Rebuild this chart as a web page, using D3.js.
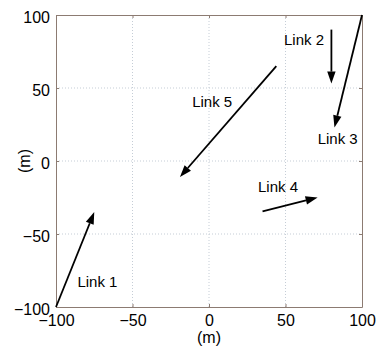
<!DOCTYPE html>
<html>
<head>
<meta charset="utf-8">
<script src="https://cdn.jsdelivr.net/npm/d3@7"></script>
<style>
  body { margin: 0; background: #fff; }
  text { font-family: "Liberation Sans", Arial, sans-serif; fill: #000; }
</style>
</head>
<body>
<script>
var W = 379, H = 346;

// link vectors, metres (start -> end)
var linkNames = ["Link 1", "Link 2", "Link 3", "Link 4", "Link 5"];
var startX = [-100, 80, 100, 35, 44];
var startY = [-100, 90, 100, -34.5, 65];
var endX = [-75, 80, 82, 71, -19];
var endY = [-35, 53, 23, -25, -11];
// where each label sits (left edge / baseline), metres
var labelX = [-86, 49, 71, 32, -11];
var labelY = [-86, 79.5, 11.5, -21.5, 37];

var tickVals = [-100, -50, 0, 50, 100];

var m = { left: 56, top: 15, right: 17, bottom: 39 };

var x = d3.scaleLinear().domain([-100, 100]).range([m.left, W - m.right]);
var y = d3.scaleLinear().domain([-100, 100]).range([H - m.bottom, m.top]);

var svg = d3.select("body").append("svg")
    .attr("width", W)
    .attr("height", H);

var g = svg.append("g");

// dotted grid
g.selectAll(".gx").data(tickVals.slice(1, 4)).enter().append("line")
    .attr("x1", function(d) { return x(d); })
    .attr("x2", function(d) { return x(d); })
    .attr("y1", y(-100)).attr("y2", y(100))
    .attr("stroke", "#c5cdd6").attr("stroke-width", 1)
    .attr("stroke-dasharray", "1,2");
g.selectAll(".gy").data(tickVals.slice(1, 4)).enter().append("line")
    .attr("y1", function(d) { return y(d); })
    .attr("y2", function(d) { return y(d); })
    .attr("x1", x(-100)).attr("x2", x(100))
    .attr("stroke", "#c5cdd6").attr("stroke-width", 1)
    .attr("stroke-dasharray", "1,2");

// axes (ticks inward, matlab style)
var fmt = function(d) { return String(d).replace("-", "\u2212"); };
var axB = g.append("g").attr("transform", "translate(0," + y(-100) + ")")
    .call(d3.axisBottom(x).tickValues(tickVals).tickSizeInner(-3).tickSizeOuter(0).tickPadding(8).tickFormat(fmt));
var axL = g.append("g").attr("transform", "translate(" + x(-100) + ",0)")
    .call(d3.axisLeft(y).tickValues(tickVals).tickSizeInner(-3).tickSizeOuter(0).tickPadding(6).tickFormat(fmt));
var axT = g.append("g").attr("transform", "translate(0," + y(100) + ")")
    .call(d3.axisTop(x).tickValues(tickVals).tickSizeInner(-3).tickSizeOuter(0).tickFormat(""));
var axR = g.append("g").attr("transform", "translate(" + x(100) + ",0)")
    .call(d3.axisRight(y).tickValues(tickVals).tickSizeInner(-3).tickSizeOuter(0).tickFormat(""));

[axB, axL, axT, axR].forEach(function(a) {
  a.select(".domain").attr("stroke", "#8c7b72").attr("stroke-width", 1);
  a.selectAll(".tick line").attr("stroke", "#8c7b72");
  a.selectAll("text").style("font-size", "16px")
    .style("font-family", "'Liberation Sans', Arial, sans-serif").attr("fill", "#000");
});
axL.selectAll("text").attr("dy", "0.45em");

// axis labels
svg.append("text")
    .attr("x", x(0)).attr("y", 342.5)
    .attr("text-anchor", "middle")
    .style("font-size", "16px")
    .text("(m)");
svg.append("text")
    .attr("transform", "translate(30," + y(0) + ")rotate(-90)")
    .attr("text-anchor", "middle")
    .style("font-size", "16px")
    .text("(m)");

// arrows
var links = linkNames.map(function(n, i) {
  return { name: n, x0: startX[i], y0: startY[i], x1: endX[i], y1: endY[i], lx: labelX[i], ly: labelY[i] };
});

var headLen = 12, headW = 4.2;
links.forEach(function(d) {
  var px0 = x(d.x0), py0 = y(d.y0), px1 = x(d.x1), py1 = y(d.y1);
  var dx = px1 - px0, dy = py1 - py0, len = Math.sqrt(dx * dx + dy * dy);
  var ux = dx / len, uy = dy / len;
  var bx = px1 - ux * headLen, by = py1 - uy * headLen;
  g.append("line")
      .attr("x1", px0).attr("y1", py0).attr("x2", bx).attr("y2", by)
      .attr("stroke", "#000").attr("stroke-width", 1.8);
  g.append("path")
      .attr("d", d3.line()([[px1, py1], [bx - uy * headW, by + ux * headW], [bx + uy * headW, by - ux * headW]]) + "Z")
      .attr("fill", "#000");
});

g.selectAll(".lbl").data(links).enter().append("text")
    .attr("x", function(d) { return x(d.lx); })
    .attr("y", function(d) { return y(d.ly); })
    .style("font-size", "15px")
    .text(function(d) { return d.name; });
</script>
</body>
</html>
